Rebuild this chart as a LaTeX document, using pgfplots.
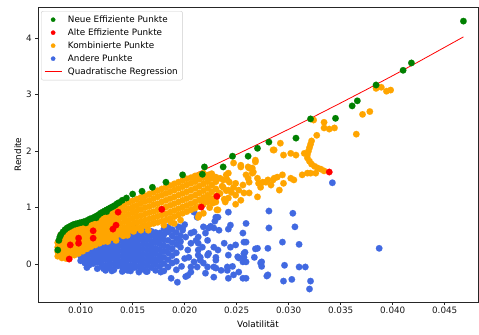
\documentclass[border=0pt]{standalone}
\usepackage{fontspec}
\setmainfont{DejaVu Sans}
\usepackage{pgfplots}
\pgfplotsset{compat=1.18}
\definecolor{mgreen}{RGB}{0,128,0}
\definecolor{mred}{RGB}{255,0,0}
\definecolor{morange}{RGB}{255,165,0}
\definecolor{mblue}{RGB}{65,105,225}
\begin{document}
\begin{tikzpicture}
\begin{axis}[name=ax, scale only axis, width=440pt, height=295pt,
  xmin=0.0059, xmax=0.0482, ymin=-0.67, ymax=4.55,
  xtick={0.01,0.015,0.02,0.025,0.03,0.035,0.04,0.045},
  ytick={0,1,2,3,4},
  scaled x ticks=false,
  xticklabel style={yshift=1pt, /pgf/number format/.cd, fixed, fixed zerofill, precision=3},
  /pgf/number format/assume math mode=true,
  tick align=outside, major tick length=2.8pt,
  tick style={black!85, line width=0.6pt},
  axis line style={black!85, line width=0.6pt},
  xtick pos=lower, ytick pos=left,
  ticklabel style={font=\fontsize{8.8}{10}\selectfont, text=black!90},
  label style={font=\fontsize{8.8}{10}\selectfont},
  xlabel={Volatilität}, ylabel={Rendite},
  xlabel style={yshift=0pt}, ylabel style={yshift=-2pt},
  legend cell align=left,
  legend style={at={(0,1)}, anchor=north west, xshift=3pt, yshift=-4pt,
    draw=black!20, rounded corners=2pt, font=\fontsize{8.8}{10}\selectfont,
    inner xsep=3pt, inner ysep=2.5pt, row sep=1pt, column sep=4pt, nodes={inner sep=1.9pt}},
  every axis plot/.append style={only marks, mark=*, mark size=3.3pt, mark options={line width=0.1pt}},
]
\addlegendimage{only marks, mark=*, mark size=2.2pt, mgreen}
\addlegendentry{Neue Effiziente Punkte}
\addlegendimage{only marks, mark=*, mark size=2.2pt, mred}
\addlegendentry{Alte Effiziente Punkte}
\addlegendimage{only marks, mark=*, mark size=2.2pt, morange}
\addlegendentry{Kombinierte Punkte}
\addlegendimage{only marks, mark=*, mark size=2.2pt, mblue}
\addlegendentry{Andere Punkte}
\addlegendimage{no marks, sharp plot, mred, line width=0.8pt}
\addlegendentry{Quadratische Regression}

% Andere Punkte
\addplot[mblue, forget plot] coordinates {
(0.0100,0.06)(0.0100,0.14)(0.0100,0.22)
(0.0104,0.02)(0.0104,0.11)(0.0104,0.20)(0.0104,0.28)
(0.0108,-0.02)(0.0108,0.07)(0.0108,0.16)(0.0108,0.25)(0.0108,0.33)
(0.0112,0.01)(0.0112,0.10)(0.0112,0.19)(0.0112,0.28)(0.0112,0.37)
(0.0116,-0.08)(0.0116,0.03)(0.0116,0.12)(0.0116,0.21)(0.0116,0.30)(0.0116,0.39)(0.0116,0.45)
(0.0120,-0.04)(0.0120,0.05)(0.0120,0.14)(0.0120,0.23)(0.0120,0.32)(0.0120,0.41)(0.0120,0.49)
(0.0124,-0.11)(0.0124,-0.02)(0.0124,0.08)(0.0124,0.17)(0.0124,0.26)(0.0124,0.35)(0.0124,0.44)(0.0124,0.52)
(0.0128,-0.06)(0.0128,0.03)(0.0128,0.12)(0.0128,0.21)(0.0128,0.30)(0.0128,0.39)(0.0128,0.48)(0.0128,0.55)
(0.0132,-0.10)(0.0132,0.00)(0.0132,0.10)(0.0132,0.19)(0.0132,0.28)(0.0132,0.37)(0.0132,0.46)(0.0132,0.55)
(0.0136,-0.03)(0.0136,0.06)(0.0136,0.15)(0.0136,0.24)(0.0136,0.33)(0.0136,0.42)(0.0136,0.51)(0.0136,0.59)
(0.0140,-0.13)(0.0140,-0.04)(0.0140,0.05)(0.0140,0.14)(0.0140,0.23)(0.0140,0.32)(0.0140,0.41)(0.0140,0.50)(0.0140,0.58)
(0.0144,-0.08)(0.0144,0.01)(0.0144,0.10)(0.0144,0.19)(0.0144,0.28)(0.0144,0.37)(0.0144,0.46)(0.0144,0.55)(0.0144,0.63)
(0.0148,-0.12)(0.0148,-0.02)(0.0148,0.08)(0.0148,0.17)(0.0148,0.26)(0.0148,0.35)(0.0148,0.44)(0.0148,0.53)(0.0148,0.62)
(0.0152,-0.06)(0.0152,0.03)(0.0152,0.12)(0.0152,0.21)(0.0152,0.30)(0.0152,0.39)(0.0152,0.48)(0.0152,0.57)(0.0152,0.65)
(0.0156,-0.14)(0.0156,-0.04)(0.0156,0.06)(0.0156,0.15)(0.0156,0.24)(0.0156,0.33)(0.0156,0.43)(0.0156,0.52)(0.0156,0.61)
(0.0160,-0.09)(0.0160,0.00)(0.0160,0.09)(0.0160,0.18)(0.0160,0.27)(0.0160,0.36)(0.0160,0.45)(0.0160,0.55)(0.0160,0.64)
(0.0164,-0.13)(0.0164,-0.03)(0.0164,0.07)(0.0164,0.16)(0.0164,0.25)(0.0164,0.34)(0.0164,0.44)(0.0164,0.53)(0.0164,0.60)
(0.0168,-0.06)(0.0168,0.04)(0.0168,0.13)(0.0168,0.22)(0.0168,0.31)(0.0168,0.40)(0.0168,0.50)(0.0168,0.58)
(0.0172,-0.11)(0.0172,-0.01)(0.0172,0.09)(0.0172,0.19)(0.0172,0.28)(0.0172,0.38)(0.0172,0.47)(0.0172,0.56)
(0.0176,-0.04)(0.0176,0.06)(0.0176,0.16)(0.0176,0.26)(0.0176,0.36)(0.0176,0.45)(0.0176,0.55)
(0.0180,-0.12)(0.0180,0.01)(0.0180,0.12)(0.0180,0.23)(0.0180,0.33)(0.0180,0.43)(0.0180,0.52)(0.0180,0.62)
(0.0184,-0.05)(0.0184,0.08)(0.0184,0.20)(0.0184,0.30)(0.0184,0.42)(0.0184,0.57)(0.0184,0.66)
(0.0188,0.02)(0.0188,0.15)(0.0188,0.27)(0.0188,0.38)(0.0188,0.50)(0.0188,0.61)
(0.0192,-0.10)(0.0192,0.05)(0.0192,0.20)(0.0192,0.35)(0.0192,0.45)(0.0192,0.56)
(0.0196,0.40)(0.0196,0.50)(0.0200,0.70)(0.0194,0.66)
(0.0106,-0.06)(0.0122,-0.08)(0.0130,-0.12)(0.0145,-0.11)(0.0163,-0.13)(0.0177,-0.14)
(0.0187,-0.25)(0.0193,-0.32)(0.0201,-0.22)(0.0203,-0.20)(0.0206,-0.14)(0.0206,-0.05)
(0.0209,0.04)(0.0213,0.16)(0.0203,0.25)(0.0211,0.42)(0.0206,0.55)(0.0198,0.60)
(0.0212,0.83)(0.0209,0.92)(0.0196,0.30)(0.0204,0.12)(0.0212,-0.05)
(0.0222,-0.05)(0.0228,-0.23)(0.0206,0.37)(0.0209,0.57)(0.0198,0.64)(0.0201,0.48)
(0.0218,0.66)(0.0228,0.64)(0.0232,0.83)(0.0242,0.92)(0.0244,0.69)(0.0244,0.30)
(0.0251,0.13)(0.0241,-0.05)(0.0247,-0.19)(0.0235,-0.11)(0.0230,0.07)(0.0222,0.16)
(0.0215,0.07)(0.0213,0.25)(0.0222,0.42)(0.0197,-0.04)(0.0200,0.10)
(0.0230,0.83)(0.0229,0.76)(0.0225,0.67)(0.0223,0.64)
(0.0220,0.55)(0.0233,0.60)(0.0242,0.62)(0.0256,0.55)(0.0238,0.37)(0.0249,0.34)
(0.0259,0.39)(0.0270,0.28)(0.0280,0.28)(0.0228,0.30)(0.0232,0.25)(0.0223,0.19)
(0.0230,0.12)(0.0242,0.16)(0.0257,0.19)(0.0252,0.11)(0.0246,-0.04)(0.0256,0.04)
(0.0228,-0.05)(0.0220,-0.16)(0.0230,-0.07)(0.0241,-0.11)(0.0242,-0.25)(0.0252,-0.14)
(0.0259,-0.25)(0.0273,0.02)(0.0280,-0.19)(0.0217,0.30)(0.0215,0.12)(0.0218,0.02)
(0.0213,0.48)(0.0213,0.37)
(0.0342,1.44)(0.0281,0.94)(0.0304,0.90)(0.0259,0.72)(0.0281,0.64)(0.0306,0.66)
(0.0257,0.39)(0.0294,0.39)(0.0310,0.35)(0.0268,0.27)(0.0387,0.28)(0.0258,0.21)
(0.0257,0.12)(0.0267,0.12)(0.0259,0.04)(0.0274,0.04)(0.0274,-0.04)(0.0296,-0.02)
(0.0310,-0.05)(0.0316,-0.05)(0.0279,-0.21)(0.0256,-0.25)(0.0295,-0.30)(0.0303,-0.27)
(0.0321,-0.30)(0.0320,-0.44)
};

% Kombinierte Punkte
\addplot[morange, forget plot] coordinates {
(0.0078,0.14)(0.0078,0.22)(0.0078,0.30)(0.0078,0.38)
(0.0082,0.11)(0.0082,0.19)(0.0082,0.27)(0.0082,0.35)(0.0082,0.43)(0.0082,0.51)
(0.0086,0.10)(0.0086,0.19)(0.0086,0.28)(0.0086,0.37)(0.0086,0.46)(0.0086,0.55)
(0.0090,0.15)(0.0090,0.24)(0.0090,0.33)(0.0090,0.42)(0.0090,0.51)(0.0090,0.60)
(0.0094,0.16)(0.0094,0.25)(0.0094,0.34)(0.0094,0.43)(0.0094,0.52)(0.0094,0.61)
(0.0098,0.19)(0.0098,0.28)(0.0098,0.37)(0.0098,0.46)(0.0098,0.55)(0.0098,0.64)
(0.0102,0.23)(0.0102,0.32)(0.0102,0.41)(0.0102,0.50)(0.0102,0.59)(0.0102,0.68)
(0.0106,0.27)(0.0106,0.36)(0.0106,0.45)(0.0106,0.54)(0.0106,0.63)(0.0106,0.71)
(0.0110,0.31)(0.0110,0.40)(0.0110,0.49)(0.0110,0.58)(0.0110,0.67)(0.0110,0.75)
(0.0114,0.34)(0.0114,0.43)(0.0114,0.52)(0.0114,0.61)(0.0114,0.70)(0.0114,0.78)
(0.0118,0.37)(0.0118,0.46)(0.0118,0.55)(0.0118,0.64)(0.0118,0.73)(0.0118,0.82)
(0.0122,0.40)(0.0122,0.49)(0.0122,0.58)(0.0122,0.67)(0.0122,0.76)(0.0122,0.86)
(0.0126,0.44)(0.0126,0.53)(0.0126,0.62)(0.0126,0.71)(0.0126,0.80)(0.0126,0.90)
(0.0130,0.47)(0.0130,0.56)(0.0130,0.65)(0.0130,0.75)(0.0130,0.85)(0.0130,0.94)
(0.0134,0.50)(0.0134,0.59)(0.0134,0.69)(0.0134,0.79)(0.0134,0.89)(0.0134,0.98)
(0.0138,0.53)(0.0138,0.62)(0.0138,0.72)(0.0138,0.82)(0.0138,0.92)(0.0138,1.02)
(0.0142,0.56)(0.0142,0.65)(0.0142,0.75)(0.0142,0.85)(0.0142,0.95)(0.0142,1.05)
(0.0146,0.59)(0.0146,0.68)(0.0146,0.78)(0.0146,0.88)(0.0146,0.98)(0.0146,1.09)
(0.0150,0.62)(0.0150,0.71)(0.0150,0.81)(0.0150,0.91)(0.0150,1.01)(0.0150,1.12)
(0.0154,0.64)(0.0154,0.74)(0.0154,0.84)(0.0154,0.94)(0.0154,1.04)(0.0154,1.15)
(0.0158,0.66)(0.0158,0.76)(0.0158,0.86)(0.0158,0.97)(0.0158,1.08)(0.0158,1.18)
(0.0162,0.68)(0.0162,0.78)(0.0162,0.89)(0.0162,1.00)(0.0162,1.11)(0.0162,1.21)
(0.0166,0.70)(0.0166,0.80)(0.0166,0.91)(0.0166,1.02)(0.0166,1.13)(0.0166,1.24)
(0.0170,0.72)(0.0170,0.82)(0.0170,0.93)(0.0170,1.05)(0.0170,1.16)(0.0170,1.27)
(0.0174,0.74)(0.0174,0.85)(0.0174,0.96)(0.0174,1.07)(0.0174,1.19)(0.0174,1.30)
(0.0178,0.76)(0.0178,0.87)(0.0178,0.98)(0.0178,1.10)(0.0178,1.22)(0.0178,1.33)
(0.0182,0.78)(0.0182,0.89)(0.0182,1.01)(0.0182,1.13)(0.0182,1.25)(0.0182,1.36)
(0.0186,0.81)(0.0186,0.92)(0.0186,1.04)(0.0186,1.16)(0.0186,1.28)(0.0186,1.39)
(0.0190,0.84)(0.0190,0.95)(0.0190,1.07)(0.0190,1.19)(0.0190,1.31)(0.0190,1.42)
(0.0194,0.87)(0.0194,0.98)(0.0194,1.10)(0.0194,1.22)(0.0194,1.34)(0.0194,1.45)
(0.0198,0.90)(0.0198,1.01)(0.0198,1.13)(0.0198,1.25)(0.0198,1.37)(0.0198,1.48)
(0.0202,0.93)(0.0202,1.04)(0.0202,1.16)(0.0202,1.28)(0.0202,1.40)(0.0202,1.51)
(0.0206,0.96)(0.0206,1.07)(0.0206,1.19)(0.0206,1.31)(0.0206,1.43)(0.0206,1.53)
(0.0210,0.99)(0.0210,1.10)(0.0210,1.22)(0.0210,1.34)(0.0210,1.46)(0.0210,1.56)
(0.0214,1.02)(0.0214,1.14)(0.0214,1.26)(0.0214,1.38)(0.0214,1.50)(0.0214,1.58)
(0.0218,1.06)(0.0218,1.18)(0.0218,1.30)(0.0218,1.42)(0.0218,1.53)(0.0218,1.61)
(0.0222,1.10)(0.0222,1.22)(0.0222,1.34)(0.0222,1.46)(0.0222,1.55)
(0.0226,1.16)(0.0226,1.28)(0.0226,1.40)(0.0226,1.52)(0.0226,1.60)
(0.0230,1.20)(0.0230,1.33)(0.0230,1.46)(0.0230,1.54)
(0.0151,0.58)(0.0165,0.60)(0.0145,0.51)(0.0180,0.69)(0.0196,0.78)(0.0187,0.74)
(0.0134,0.42)(0.0126,0.40)(0.0141,0.50)(0.0213,0.83)(0.0218,0.90)(0.0232,0.96)
(0.0230,1.10)(0.0224,1.00)(0.0190,0.72)(0.0214,0.87)(0.0231,0.96)(0.0158,0.60)
(0.0223,1.58)(0.0241,1.49)(0.0237,1.36)(0.0242,1.31)(0.0233,1.26)(0.0223,1.19)
(0.0217,1.13)(0.0227,1.08)(0.0239,1.10)(0.0234,1.25)(0.0236,1.38)(0.0238,1.15)
(0.0240,1.30)(0.0243,1.45)(0.0245,1.27)(0.0247,1.36)(0.0234,1.52)(0.0240,1.58)
(0.0247,1.79)(0.0285,2.02)(0.0268,1.84)(0.0242,1.61)(0.0254,1.72)(0.0262,1.70)
(0.0266,1.63)(0.0259,1.58)(0.0237,1.49)(0.0249,1.43)(0.0256,1.40)(0.0262,1.45)
(0.0271,1.43)(0.0278,1.45)(0.0285,1.49)(0.0249,1.22)(0.0262,1.26)(0.0252,1.31)
(0.0270,1.19)(0.0242,1.17)(0.0249,1.06)(0.0230,1.17)
(0.0268,1.81)(0.0261,1.52)(0.0270,1.52)(0.0280,1.49)(0.0286,1.52)(0.0294,1.58)
(0.0302,1.52)(0.0313,1.58)(0.0321,1.61)(0.0326,1.61)(0.0273,1.36)(0.0283,1.40)
(0.0291,1.31)(0.0257,1.26)(0.0254,1.13)(0.0295,1.43)(0.0305,1.49)(0.0275,1.45)
(0.0265,1.61)(0.0289,1.54)(0.0318,1.61)
(0.0384,3.11)(0.0389,3.13)(0.0394,3.06)(0.0398,3.08)(0.0371,2.65)(0.0378,2.70)
(0.0365,2.30)(0.0334,2.51)(0.0324,2.55)(0.0334,2.41)(0.0339,2.39)(0.0344,2.41)
(0.0327,2.28)(0.0322,2.18)
(0.0321,2.12)(0.0320,2.06)(0.0319,2.00)(0.0318,1.94)(0.0318,1.88)(0.0320,1.82)
(0.0322,1.77)(0.0325,1.73)(0.0328,1.70)(0.0331,1.68)(0.0334,1.65)
(0.0254,1.75)(0.0261,1.72)(0.0265,1.70)(0.0286,2.02)(0.0292,2.14)(0.0295,1.93)
(0.0302,1.96)(0.0307,1.93)(0.0315,1.96)
};

% Alte Effiziente Punkte
\addplot[mred, forget plot] coordinates {
(0.0089,0.09)(0.0090,0.34)(0.0098,0.46)(0.0098,0.37)(0.0112,0.59)(0.0112,0.46)
(0.0131,0.62)(0.0134,0.69)(0.0136,0.92)(0.0178,0.97)(0.0216,1.01)(0.0231,1.20)
(0.0339,1.63)
};

% Neue Effiziente Punkte
\addplot[mgreen, forget plot] coordinates {
(0.0078,0.25)(0.0079,0.42)(0.0080,0.48)(0.0081,0.52)(0.0083,0.57)(0.0085,0.61)
(0.0087,0.64)(0.0089,0.66)(0.0091,0.68)(0.0093,0.70)(0.0095,0.71)(0.0097,0.72)
(0.0099,0.73)(0.0101,0.74)(0.0103,0.75)(0.0105,0.76)(0.0107,0.78)(0.0109,0.80)
(0.0111,0.81)(0.0113,0.83)(0.0115,0.85)(0.0117,0.87)(0.0119,0.90)(0.0121,0.92)
(0.0123,0.94)(0.0125,0.96)(0.0127,0.98)(0.0129,1.00)(0.0131,1.02)(0.0133,1.04)
(0.0135,1.07)(0.0137,1.09)(0.0140,1.13)(0.0144,1.17)(0.0150,1.24)(0.0159,1.29)
(0.0169,1.36)(0.0182,1.45)(0.0198,1.58)(0.0217,1.59)(0.0219,1.72)(0.0237,1.72)
(0.0246,1.91)(0.0261,1.91)(0.0270,2.05)(0.0281,2.16)(0.0307,2.23)(0.0321,2.57)
(0.0345,2.58)(0.0361,2.80)(0.0366,2.89)(0.0384,3.17)(0.0410,3.43)(0.0418,3.56)
(0.0468,4.30)(0.0105,0.73)(0.0115,0.82)(0.0125,0.93)
};

% Quadratische Regression
\addplot[mred, no marks, sharp plot, line width=0.8pt, forget plot] coordinates {
(0.0078,0.542)(0.0100,0.709)(0.0125,0.903)(0.0150,1.102)(0.0175,1.304)
(0.0200,1.512)(0.0225,1.724)(0.0250,1.941)(0.0275,2.162)(0.0300,2.387)
(0.0325,2.617)(0.0350,2.852)(0.0375,3.091)(0.0400,3.335)(0.0425,3.583)
(0.0468,4.021)
};
\end{axis}
\pgfresetboundingbox
\path ([shift={(-38pt,-32pt)}]ax.south west) rectangle ([shift={(1pt,7pt)}]ax.north east);
\end{tikzpicture}
\end{document}
